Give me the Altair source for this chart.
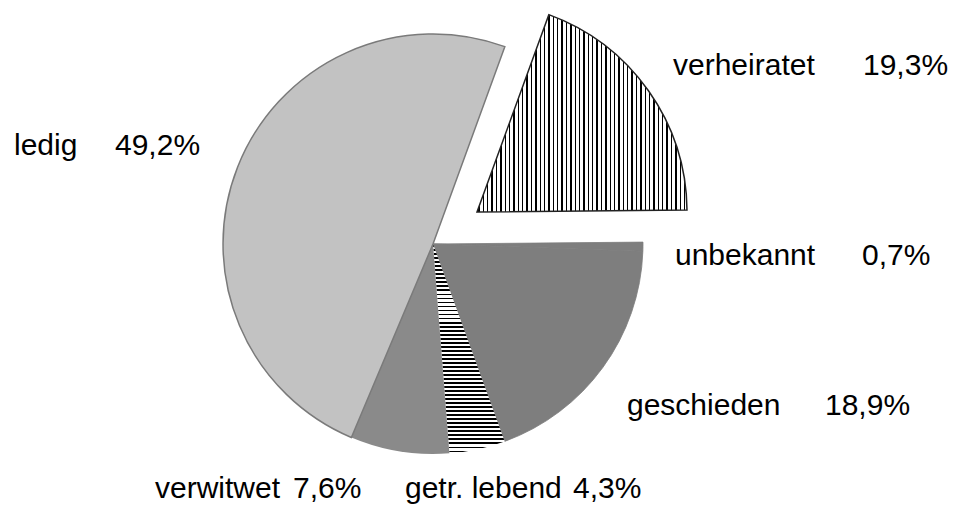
import math
import altair as alt
import pandas as pd

# ---- data ----
categories = ["verheiratet", "unbekannt", "geschieden", "getr. lebend", "verwitwet", "ledig"]
values = [19.3, 0.7, 18.9, 4.3, 7.6, 49.2]
pct_labels = [f"{v:.1f}".replace(".", ",") + "%" for v in values]

df = pd.DataFrame({"idx": list(range(len(categories))), "name": categories,
                   "value": values, "pct": pct_labels})

# ---- layout ----
CX, CY, R = 425, 236, 210          # pie centre / radius (chart coords)
EXPLODE = (44, -32)                # offset of exploded slice
A0 = math.radians(20)              # start angle of first slice
FONT = "Liberation Sans"
FS = 30

label_pos = {
    "verheiratet": ((665, 67), (855, 67)),
    "ledig": ((6, 147), (107, 147)),
    "unbekannt": ((667, 257), (854, 257)),
    "geschieden": ((619, 407), (817, 407)),
    "verwitwet": ((147, 490), (285, 490)),
    "getr. lebend": ((397, 490), (565, 490)),
}


def stripes(n, frac, vertical_lines):
    stops = [alt.GradientStop(color="white", offset=0)]
    for i in range(n):
        a = (i + 0.3) / n
        b = (i + 0.3 + frac) / n
        stops += [alt.GradientStop(color="white", offset=a),
                  alt.GradientStop(color="black", offset=a),
                  alt.GradientStop(color="black", offset=b),
                  alt.GradientStop(color="white", offset=b)]
    stops.append(alt.GradientStop(color="white", offset=1))
    if vertical_lines:
        return alt.LinearGradient(gradient="linear", stops=stops, x1=0, y1=0, x2=1, y2=0)
    return alt.LinearGradient(gradient="linear", stops=stops, x1=0, y1=0, x2=0, y2=1)


styles = {
    "verheiratet": dict(fill=stripes(48, 0.32, True), stroke="#222222", strokeWidth=1.5),
    "unbekannt": dict(fill="#7e7e7e", stroke="#7e7e7e", strokeWidth=0.8),
    "geschieden": dict(fill="#7e7e7e", stroke="#7e7e7e", strokeWidth=0.8),
    "getr. lebend": dict(fill=stripes(52, 0.45, False)),
    "verwitwet": dict(fill="#8a8a8a"),
    "ledig": dict(fill="#c2c2c2", stroke="#7a7a7a", strokeWidth=1.5),
}

base = alt.Chart(df).transform_window(
    cum="sum(value)", sort=[alt.SortField("idx")], frame=[None, 0]
).transform_calculate(start="datum.cum - datum.value")

theta_scale = alt.Scale(domain=[0, 100], range=[A0, A0 + 2 * math.pi])

layers = []
for name in categories:
    cx, cy = CX, CY
    if name == "verheiratet":
        cx, cy = CX + EXPLODE[0], CY + EXPLODE[1]
    layers.append(
        base.transform_filter(alt.datum.name == name)
        .mark_arc(radius=R, **styles[name])
        .encode(theta=alt.Theta("start:Q", scale=theta_scale),
                theta2=alt.Theta2("cum:Q"),
                x=alt.value(cx), y=alt.value(cy))
    )

for name in categories:
    (nx, ny), (px, py) = label_pos[name]
    sub = base.transform_filter(alt.datum.name == name)
    layers.append(sub.mark_text(align="left", baseline="alphabetic", font=FONT,
                                fontSize=FS, color="black")
                  .encode(text="name:N", x=alt.value(nx), y=alt.value(ny)))
    layers.append(sub.mark_text(align="left", baseline="alphabetic", font=FONT,
                                fontSize=FS, color="black")
                  .encode(text="pct:N", x=alt.value(px), y=alt.value(py)))

chart = alt.layer(*layers).properties(
    width=941, height=510, autosize="none", padding=0, background="white"
).configure_view(stroke=None)

chart.save("out.html", embed_options={"renderer": "svg", "actions": False})
